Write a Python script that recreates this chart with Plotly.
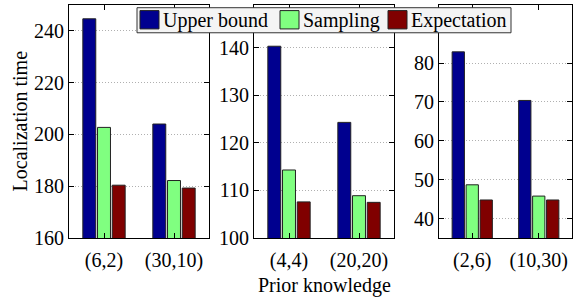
import plotly.graph_objects as go

series = ["Upper bound", "Sampling", "Expectation"]
colors = ["#00008F", "#80FF80", "#800000"]

cats1 = ["(6,2)", "(30,10)"]
cats2 = ["(4,4)", "(20,20)"]
cats3 = ["(2,6)", "(10,30)"]

upper1 = [244.6, 204.0]
samp1 = [202.7, 182.2]
expe1 = [180.4, 179.3]

upper2 = [140.3, 124.3]
samp2 = [114.3, 108.9]
expe2 = [107.6, 107.5]

upper3 = [82.9, 70.4]
samp3 = [48.7, 45.8]
expe3 = [44.8, 44.8]

yticks1 = [160, 180, 200, 220, 240]
yticks2 = [100, 110, 120, 130, 140]
yticks3 = [40, 50, 60, 70, 80]

panels = [
    (cats1, [upper1, samp1, expe1], [160, 250], yticks1, [69, 209]),
    (cats2, [upper2, samp2, expe2], [100, 149], yticks2, [254, 394]),
    (cats3, [upper3, samp3, expe3], [35, 95], yticks3, [439, 572]),
]

W, H = 583, 304
FONT = "Liberation Serif"
fig = go.Figure()

for i, (cats, vals, yr, yt, xpx) in enumerate(panels):
    n = "" if i == 0 else str(i + 1)
    for s, v, c in zip(series, vals, colors):
        fig.add_trace(go.Bar(
            x=cats, y=v, name=s, marker=dict(color=c, line=dict(color="#222222", width=1)),
            xaxis="x" + n, yaxis="y" + n, showlegend=False,
        ))
    common = dict(showline=True, linecolor="black", linewidth=1, mirror="ticks",
                  ticks="inside", ticklen=5, tickcolor="black",
                  tickfont=dict(family=FONT, size=20, color="black"))
    fig.layout["xaxis" + n] = dict(domain=[xpx[0] / W, xpx[1] / W], anchor="y" + n,
                                   range=[-0.5, 1.5], showgrid=False,
                                   ticklabelstandoff=4, **common)
    fig.layout["yaxis" + n] = dict(domain=[1 - 247 / H, 1 - 5 / H], anchor="x" + n,
                                   range=yr, tickvals=yt, showgrid=True,
                                   gridcolor="#b0b0b0", griddash="1px,2px", gridwidth=1,
                                   zeroline=False, **common)

# legend drawn as a boxed key above the panels
px = lambda v: v / W
py = lambda v: 1 - v / H
shapes = [dict(type="rect", xref="paper", yref="paper", x0=px(137), x1=px(511),
               y0=py(34), y1=py(8), fillcolor="#f4f4f4", line=dict(color="#333333", width=1),
               layer="above")]
annotations = []
key_x = [140, 280, 388]
for s, c, kx in zip(series, colors, key_x):
    shapes.append(dict(type="rect", xref="paper", yref="paper", x0=px(kx), x1=px(kx + 19),
                       y0=py(30), y1=py(11), fillcolor=c,
                       line=dict(color="#222222", width=1), layer="above"))
    annotations.append(dict(text=s, x=px(kx + 21), y=py(21), xref="paper", yref="paper",
                            showarrow=False, xanchor="left", yanchor="middle",
                            font=dict(family=FONT, size=20, color="black")))

annotations += [
    dict(text="Localization time", x=px(20), y=py(126),
         xref="paper", yref="paper", textangle=-90, showarrow=False,
         font=dict(family=FONT, size=20, color="black"), xanchor="center", yanchor="middle"),
    dict(text="Prior knowledge", x=px(324), y=py(296), xref="paper", yref="paper",
         showarrow=False, font=dict(family=FONT, size=20, color="black"),
         xanchor="center", yanchor="middle"),
]

fig.update_layout(
    width=W, height=H, margin=dict(l=0, r=0, t=0, b=0),
    paper_bgcolor="white", plot_bgcolor="white",
    barmode="group", bargap=0.37, bargroupgap=0.12,
    font=dict(family=FONT, size=20, color="black"),
    showlegend=False,
    shapes=shapes, annotations=annotations,
)

fig.write_html("out.html", config={"displayModeBar": False},
               post_script="document.body.style.margin='0';document.body.style.overflow='hidden';")
